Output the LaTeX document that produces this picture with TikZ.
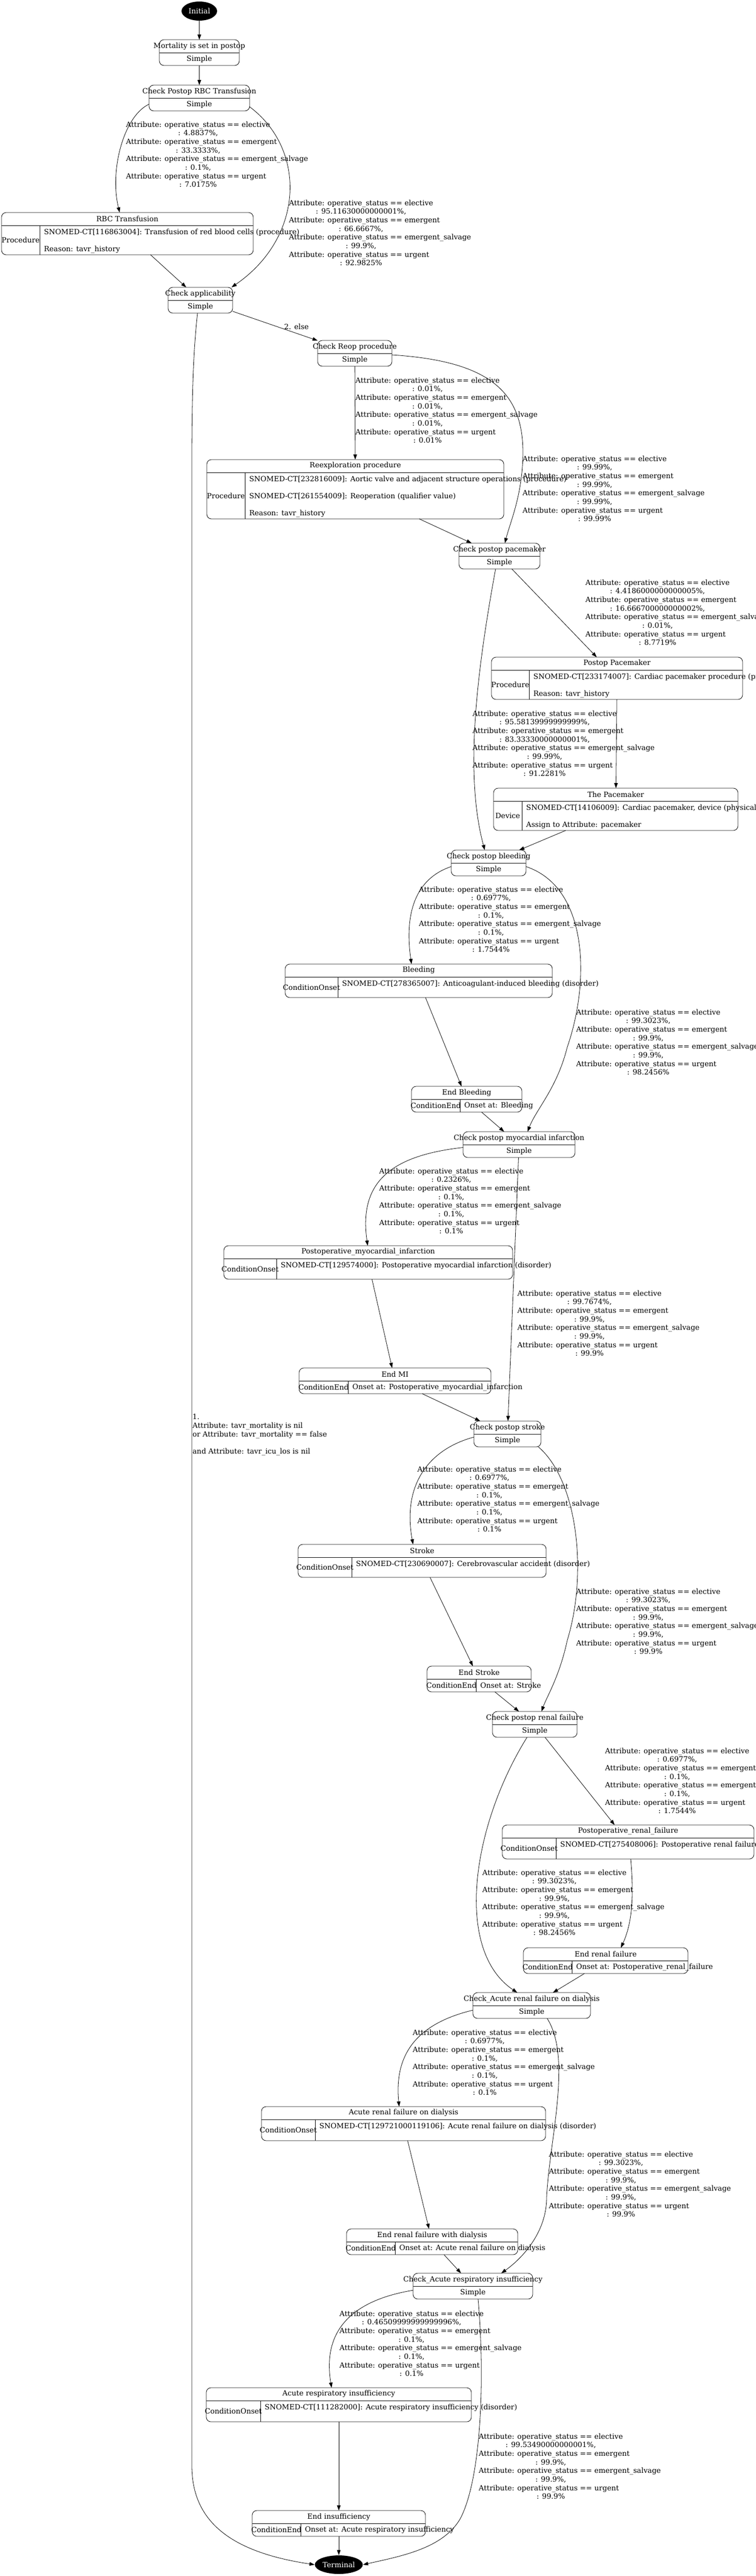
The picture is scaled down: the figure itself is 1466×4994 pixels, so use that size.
\documentclass[tikz,border=0pt]{standalone}
\usepackage{fontspec}
\usepackage{calc}
\setmainfont{DejaVu Serif}
\usetikzlibrary{arrows.meta,shapes.geometric}

\begin{document}
\begin{tikzpicture}[x=1pt, y=-1pt, font=\fontsize{14pt}{16.7pt}\selectfont,
  >={Triangle[length=10pt,width=7pt]}, line width=0.8pt,
  statebox/.style={draw, rounded corners=9pt, inner sep=0pt, outer sep=0pt, anchor=north west},
  endpoint/.style={ellipse, fill=black, text=white, inner sep=0pt},
  odds/.style={anchor=north west, align=left, inner sep=0pt}]

  \newcommand\ATTR[2]{Attribute: operative\_status == #1\\\makebox[\widthof{Attribute: operative\_status == elective}][c]{: #2}}
  \newcommand\ODDS[4]{\ATTR{elective}{#1\%,}\\\ATTR{emergent}{#2\%,}\\\ATTR{emergent\_salvage}{#3\%,}\\\ATTR{urgent}{#4\%}}

  % name, left, right, top, title
  \newcommand\SIMPLE[5]{%
    \node[statebox, minimum width=#3-#2, minimum height=50] (#1) at (#2,#4) {};
    \draw (#1.west) -- (#1.east);
    \node (#1-t) at ([yshift=12.5pt]#1.center) {#5};
    \node (#1-s) at ([yshift=-12.5pt]#1.center) {Simple};}

  % name, left, right, top, divider, title, onset
  \newcommand\ENDBOX[7]{%
    \node[statebox, minimum width=#3-#2, minimum height=50] (#1) at (#2,#4) {};
    \draw (#1.west) -- (#1.east);
    \draw (#5,#4+25) -- (#5,#4+50);
    \node (#1-t) at ([yshift=12.5pt]#1.center) {#6};
    \node (#1-k) at ({(#2+#5)/2},#4+37.5) {ConditionEnd};
    \node[anchor=west, inner sep=0pt] (#1-r) at (#5+8,#4+37.5) {Onset at: #7};}

  % name, left, right, top, bottom, divider, title, kind, lines
  \newcommand\DETAIL[9]{%
    \node[statebox, minimum width=#3-#2, minimum height=#5-#4] (#1) at (#2,#4) {};
    \draw ([yshift=-25pt]#1.north west) -- ([yshift=-25pt]#1.north east);
    \draw (#6,#4+25) -- (#6,#5);
    \node (#1-t) at ({(#2+#3)/2},#4+12) {#7};
    \node (#1-k) at ({(#2+#6)/2},{(#4+25+#5)/2}) {#8};
    \node[odds] (#1-r) at (#6+8,#4+31) {#9};}

  \fill[white] (0,0) rectangle (1466,4994);
  \useasboundingbox (0,0) rectangle (1466,4994);

  \node[endpoint, minimum width=69, minimum height=37] (Initial) at (386.5,21.5) {Initial};
  \SIMPLE{Mortality}{309}{464}{77}{Mortality is set in postop}
  \SIMPLE{CheckRBC}{289}{484}{165}{Check Postop RBC Transfusion}
  \DETAIL{RBC}{3}{491}{412}{494}{77}{RBC Transfusion}{Procedure}{SNOMED-CT[116863004]: Transfusion of red blood cells (procedure)\\[16.7pt]Reason: tavr\_history}
  \SIMPLE{CheckApp}{326}{451}{557}{Check applicability}
  \SIMPLE{Reop}{616}{760}{660}{Check Reop procedure}
  \DETAIL{Reexpl}{401}{977}{891}{1006}{475}{Reexploration procedure}{Procedure}{SNOMED-CT[232816009]: Aortic valve and adjacent structure operations (procedure)\\[16.7pt]SNOMED-CT[261554009]: Reoperation (qualifier value)\\[16.7pt]Reason: tavr\_history}
  \SIMPLE{CheckPM}{890}{1047}{1053}{Check postop pacemaker}
  \DETAIL{PostopPM}{953}{1440}{1274}{1356}{1026}{Postop Pacemaker}{Procedure}{SNOMED-CT[233174007]: Cardiac pacemaker procedure (procedure)\\[16.7pt]Reason: tavr\_history}
  \DETAIL{ThePM}{957}{1431}{1528}{1610}{1012}{The Pacemaker}{Device}{SNOMED-CT[14106009]: Cardiac pacemaker, device (physical object)\\[16.7pt]Assign to Attribute: pacemaker}
  \SIMPLE{CheckBleed}{875}{1020}{1648}{Check postop bleeding}
  \DETAIL{Bleeding}{553}{1071}{1869}{1934}{655}{Bleeding}{ConditionOnset}{SNOMED-CT[278365007]: Anticoagulant-induced bleeding (disorder)}
  \ENDBOX{EndBleed}{798}{1012}{2106}{892}{End Bleeding}{Bleeding}
  \SIMPLE{CheckMI}{898}{1115}{2194}{Check postop myocardial infarction}
  \DETAIL{PostopMI}{434}{994}{2415}{2480}{536}{Postoperative\_myocardial\_infarction}{ConditionOnset}{SNOMED-CT[129574000]: Postoperative myocardial infarction (disorder)}
  \ENDBOX{EndMI}{580}{952}{2652}{675}{End MI}{Postoperative\_myocardial\_infarction}
  \SIMPLE{CheckStroke}{919}{1049}{2755}{Check postop stroke}
  \DETAIL{Stroke}{578}{1059}{2994}{3058}{682}{Stroke}{ConditionOnset}{SNOMED-CT[230690007]: Cerebrovascular accident (disorder)}
  \ENDBOX{EndStroke}{828}{1030}{3230}{923}{End Stroke}{Stroke}
  \SIMPLE{CheckRenal}{955}{1119}{3318}{Check postop renal failure}
  \DETAIL{PostopRenal}{974}{1462}{3538}{3604}{1078}{Postoperative\_renal\_failure}{ConditionOnset}{SNOMED-CT[275408006]: Postoperative renal failure (disorder)}
  \ENDBOX{EndRenal}{1015}{1334}{3776}{1109}{End renal failure}{Postoperative\_renal\_failure}
  \SIMPLE{CheckARF}{917}{1145}{3863}{Check\_Acute renal failure on dialysis}
  \DETAIL{ARF}{507}{1058}{4084}{4150}{611}{Acute renal failure on dialysis}{ConditionOnset}{SNOMED-CT[129721000119106]: Acute renal failure on dialysis (disorder)}
  \ENDBOX{EndDialysis}{672}{1004}{4321}{766}{End renal failure with dialysis}{Acute renal failure on dialysis}
  \SIMPLE{CheckResp}{801}{1033}{4407}{Check\_Acute respiratory insufficiency}
  \DETAIL{AcuteResp}{400}{914}{4629}{4695}{505}{Acute respiratory insufficiency}{ConditionOnset}{SNOMED-CT[111282000]: Acute respiratory insufficiency (disorder)}
  \ENDBOX{EndInsuff}{489}{825}{4867}{583}{End insufficiency}{Acute respiratory insufficiency}
  \node[endpoint, minimum width=93, minimum height=36] (Terminal) at (657,4972) {Terminal};

  % edge labels
  \node[odds] (oddsRBC) at (244,235) {\ODDS{4.8837}{33.3333}{0.1}{7.0175}};
  \node[odds] (oddsNoRBC) at (560,387) {\ODDS{95.11630000000001}{66.6667}{99.9}{92.9825}};
  \node (lElse) at (575,633) {2. else};
  \node[odds] (lApp) at (373,2741) {1.\\Attribute: tavr\_mortality is nil\\or Attribute: tavr\_mortality == false\\[16.7pt]and Attribute: tavr\_icu\_los is nil};
  \node[odds] (oddsReop) at (689,731) {\ODDS{0.01}{0.01}{0.01}{0.01}};
  \node[odds] (oddsNoReop) at (1013,883) {\ODDS{99.99}{99.99}{99.99}{99.99}};
  \node[odds] (oddsPM) at (1135,1123) {\ODDS{4.4186000000000005}{16.666700000000002}{0.01}{8.7719}};
  \node[odds] (oddsNoPM) at (916,1377) {\ODDS{95.58139999999999}{83.33330000000001}{99.99}{91.2281}};
  \node[odds] (oddsBleed) at (812,1718) {\ODDS{0.6977}{0.1}{0.1}{1.7544}};
  \node[odds] (oddsNoBleed) at (1117,1956) {\ODDS{99.3023}{99.9}{99.9}{98.2456}};
  \node[odds] (oddsMI) at (735,2264) {\ODDS{0.2326}{0.1}{0.1}{0.1}};
  \node[odds] (oddsNoMI) at (1003,2501) {\ODDS{99.7674}{99.9}{99.9}{99.9}};
  \node[odds] (oddsStroke) at (809,2842) {\ODDS{0.6977}{0.1}{0.1}{0.1}};
  \node[odds] (oddsNoStroke) at (1117,3079) {\ODDS{99.3023}{99.9}{99.9}{99.9}};
  \node[odds] (oddsRenal) at (1173,3388) {\ODDS{0.6977}{0.1}{0.1}{1.7544}};
  \node[odds] (oddsNoRenal) at (935,3624) {\ODDS{99.3023}{99.9}{99.9}{98.2456}};
  \node[odds] (oddsARF) at (800,3934) {\ODDS{0.6977}{0.1}{0.1}{0.1}};
  \node[odds] (oddsNoARF) at (1064,4170) {\ODDS{99.3023}{99.9}{99.9}{99.9}};
  \node[odds] (oddsResp) at (658,4479) {\ODDS{0.46509999999999996}{0.1}{0.1}{0.1}};
  \node[odds] (oddsNoResp) at (928,4717) {\ODDS{99.53490000000001}{99.9}{99.9}{99.9}};

  % edges
  \draw[->] (Initial) -- (Mortality);
  \draw[->] (Mortality) -- (CheckRBC);
  \draw[->] ([yshift=-12pt]CheckRBC.west) .. controls (240,225) and (212,330) .. ([xshift=-15pt]RBC.north);
  \draw[->] ([yshift=-17pt]CheckRBC.east) .. controls (595,290) and (590,460) .. ([xshift=-2pt]CheckApp.north east);
  \draw[->] (RBC) -- (CheckApp);
  \draw[->] (CheckApp) -- (Reop);
  \draw[->] ([xshift=-5.5pt]CheckApp.south) .. controls (375,680) and (372,760) .. (372,900) -- (372,4780) .. controls (372,4890) and (450,4948) .. (Terminal.west);
  \draw[->] (Reop) -- (Reexpl);
  \draw[->] ([yshift=-3pt]Reop.east) .. controls (950,700) and (1015,760) .. (1014,880) .. controls (1013,960) and (990,1010) .. ([xshift=10.5pt]CheckPM.north);
  \draw[->] (Reexpl) -- (CheckPM);
  \draw[->] (CheckPM) -- (PostopPM);
  \draw[->] ([xshift=-7.5pt]CheckPM.south) .. controls (925,1300) and (900,1500) .. ([xshift=-7.5pt]CheckBleed.north);
  \draw[->] (PostopPM) -- (ThePM);
  \draw[->] (ThePM) -- (CheckBleed);
  \draw[->] ([yshift=-7pt]CheckBleed.west) .. controls (800,1705) and (785,1780) .. ([xshift=-14pt]Bleeding.north);
  \draw[->] ([yshift=-7pt]CheckBleed.east) .. controls (1140,1720) and (1145,1900) .. (1100,2030) .. controls (1080,2110) and (1040,2150) .. ([xshift=16.5pt]CheckMI.north);
  \draw[->] (Bleeding) -- (EndBleed);
  \draw[->] (EndBleed) -- (CheckMI);
  \draw[->] ([yshift=-5.5pt]CheckMI.west) .. controls (760,2240) and (695,2290) .. ([xshift=-1pt]PostopMI.north);
  \draw[->] (CheckMI) -- (CheckStroke);
  \draw[->] (PostopMI) -- (EndMI);
  \draw[->] (EndMI) -- (CheckStroke);
  \draw[->] ([yshift=-6pt]CheckStroke.west) .. controls (830,2810) and (780,2880) .. ([xshift=-17.5pt]Stroke.north);
  \draw[->] ([xshift=-5pt]CheckStroke.south east) .. controls (1120,2870) and (1140,3050) .. (1100,3180) .. controls (1085,3250) and (1060,3290) .. ([xshift=13pt]CheckRenal.north);
  \draw[->] (Stroke) -- (EndStroke);
  \draw[->] (EndStroke) -- (CheckRenal);
  \draw[->] (CheckRenal) -- (PostopRenal);
  \draw[->] ([xshift=-15pt]CheckRenal.south) .. controls (915,3540) and (880,3780) .. ([xshift=-28pt]CheckARF.north);
  \draw[->] ([xshift=5pt]PostopRenal.south) .. controls (1230,3680) and (1225,3730) .. ([xshift=29.5pt]EndRenal.north);
  \draw[->] (EndRenal) -- (CheckARF);
  \draw[->] ([yshift=-9pt]CheckARF.west) .. controls (800,3925) and (765,3990) .. ([xshift=-8.5pt]ARF.north);
  \draw[->] ([xshift=30pt]CheckARF.south) .. controls (1110,3990) and (1065,4150) .. (1060,4260) .. controls (1060,4330) and (1010,4380) .. ([xshift=55pt]CheckResp.north);
  \draw[->] (ARF) -- (EndDialysis);
  \draw[->] (EndDialysis) -- (CheckResp);
  \draw[->] ([yshift=-8pt]CheckResp.west) .. controls (680,4460) and (625,4520) .. ([xshift=-14pt]AcuteResp.north);
  \draw[->] ([xshift=10pt]CheckResp.south) .. controls (940,4600) and (935,4800) .. (893,4882) .. controls (860,4940) and (780,4955) .. (Terminal.east);
  \draw[->] (AcuteResp) -- (EndInsuff);
  \draw[->] (EndInsuff) -- (Terminal);

\end{tikzpicture}
\end{document}
